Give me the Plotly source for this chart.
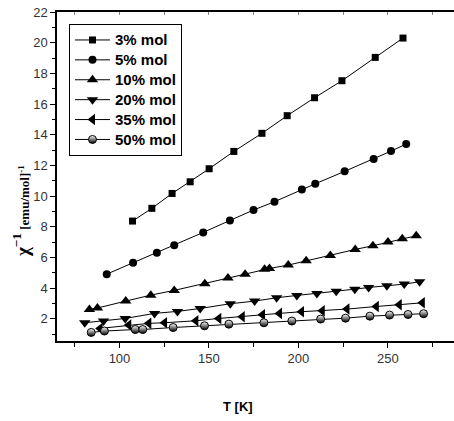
import plotly.graph_objects as go

# ---- data ----
x3 = [107.3, 118.1, 129.4, 139.5, 150.1, 163.9, 179.6, 193.7, 209.0, 224.3, 242.9, 258.4]
y3 = [8.37, 9.20, 10.17, 10.93, 11.78, 12.91, 14.09, 15.24, 16.41, 17.52, 19.04, 20.30]

x5 = [92.9, 107.6, 120.9, 130.6, 146.8, 161.7, 174.9, 186.6, 201.9, 209.4, 225.8, 242.0, 251.7, 260.2]
y5 = [4.91, 5.65, 6.30, 6.80, 7.63, 8.41, 9.09, 9.63, 10.43, 10.80, 11.61, 12.41, 12.93, 13.39]

x10 = [83.2, 87.7, 103.5, 117.5, 130.6, 147.7, 160.6, 170.2, 181.1, 183.8, 194.3, 204.3, 217.8, 231.7, 241.6, 250.0, 258.0, 265.8]
y10 = [2.61, 2.70, 3.15, 3.54, 3.85, 4.28, 4.65, 4.91, 5.22, 5.28, 5.50, 5.78, 6.13, 6.52, 6.76, 7.00, 7.22, 7.41]

x20 = [80.6, 91.1, 103.2, 119.6, 132.4, 145.1, 161.9, 175.5, 187.8, 199.1, 210.3, 221.1, 231.5, 239.2, 249.4, 259.1, 267.7]
y20 = [1.74, 1.85, 2.02, 2.35, 2.48, 2.67, 2.98, 3.15, 3.37, 3.52, 3.65, 3.80, 3.93, 4.04, 4.15, 4.26, 4.41]

x35 = [89.2, 105.2, 116.4, 125.2, 142.7, 155.5, 168.6, 179.9, 189.4, 201.7, 213.3, 227.1, 243.5, 256.3, 269.2]
y35 = [1.37, 1.59, 1.70, 1.74, 1.87, 2.02, 2.13, 2.26, 2.35, 2.46, 2.52, 2.63, 2.80, 2.91, 3.04]

x50 = [84.2, 91.6, 108.8, 113.0, 130.0, 147.5, 161.1, 180.7, 196.3, 212.4, 226.3, 239.9, 250.9, 261.2, 269.9]
y50 = [1.11, 1.20, 1.30, 1.30, 1.43, 1.54, 1.65, 1.74, 1.85, 1.98, 2.04, 2.17, 2.24, 2.28, 2.33]

names = ["3% mol", "5% mol", "10% mol", "20% mol", "35% mol", "50% mol"]

fig = go.Figure()
series = [
    (x3, y3, "square", 7),
    (x5, y5, "circle", 8),
    (x10, y10, "triangle-up", 10),
    (x20, y20, "triangle-down", 10),
    (x35, y35, "triangle-left", 10),
]
label = "<span style='font-size:15px'>{}</span>"
for (xs, ys, sym, sz), nm in zip(series, names[:5]):
    fig.add_trace(go.Scatter(
        x=xs, y=ys, mode="lines+markers", name=label.format(nm),
        line=dict(color="black", width=1),
        marker=dict(symbol=sym, size=sz, color="black", line=dict(width=0)),
    ))
fig.add_trace(go.Scatter(
    x=x50, y=y50, mode="lines+markers", name=label.format(names[5]),
    line=dict(color="black", width=1),
    marker=dict(symbol="circle", size=8, color="white",
                gradient=dict(type="vertical", color="black"),
                line=dict(color="black", width=1)),
))

# top axis with inward ticks
fig.add_trace(go.Scatter(x=[100], y=[10], xaxis="x2", showlegend=False,
                         mode="markers", marker=dict(opacity=0), hoverinfo="skip"))

fig.update_layout(
    width=454, height=421,
    margin=dict(l=57, r=0, t=12, b=80),
    paper_bgcolor="white", plot_bgcolor="white",
    font=dict(family="Liberation Sans, Arial", color="#222"),
    xaxis=dict(
        range=[65.1, 286.9], showgrid=False, zeroline=False,
        showline=True, linecolor="black", linewidth=1.5,
        tickmode="array", tickvals=[100, 150, 200, 250],
        ticks="outside", ticklen=5, tickcolor="black", tickwidth=1,
        tickfont=dict(size=13, color="#333"),
        minor=dict(tickvals=[75, 125, 175, 225, 275], ticks="outside", ticklen=4,
                   tickcolor="black", tickwidth=1, showgrid=False),
    ),
    xaxis2=dict(
        overlaying="x", side="top", matches="x", range=[65.1, 286.9],
        showgrid=False, zeroline=False, showline=True, linecolor="black", linewidth=1.5,
        tickmode="linear", tick0=0, dtick=25, ticks="inside", ticklen=3,
        tickcolor="#888", showticklabels=False,
    ),
    yaxis=dict(
        range=[0.55, 22], showgrid=False, zeroline=False,
        showline=True, linecolor="black", linewidth=1.5,
        tickmode="linear", tick0=0, dtick=2,
        ticks="outside", ticklen=5, tickcolor="black", tickwidth=1,
        tickfont=dict(size=13, color="#333"),
        minor=dict(tick0=0, dtick=1, ticks="outside", ticklen=3,
                   tickcolor="black", tickwidth=1, showgrid=False),
    ),
    legend=dict(
        x=0.0302, y=0.9635, xanchor="left", yanchor="top",
        bordercolor="black", borderwidth=1, bgcolor="white",
        font=dict(family="Liberation Sans, Arial", size=13, color="black", weight="bold"),
        itemwidth=35, tracegroupgap=0,
    ),
    showlegend=True,
    annotations=[
        dict(text="<b>T [K]</b>", xref="paper", yref="paper",
             x=(238 - 57) / 397, y=(341 - 406) / 329, showarrow=False,
             xanchor="center", yanchor="middle",
             font=dict(family="Liberation Sans, Arial", size=13, color="black")),
        dict(text="<b>χ<sup>−1</sup></b><span style='font-family:Liberation Serif;font-size:13px'><b> [emu/mol]<sup>-1</sup></b></span>",
             xref="paper", yref="paper", textangle=-90,
             x=(21 - 57) / 397, y=(341 - 211) / 329, showarrow=False,
             xanchor="center", yanchor="middle",
             font=dict(family="Liberation Serif", size=19, color="black")),
    ],
)

fig.write_html("out.html")
